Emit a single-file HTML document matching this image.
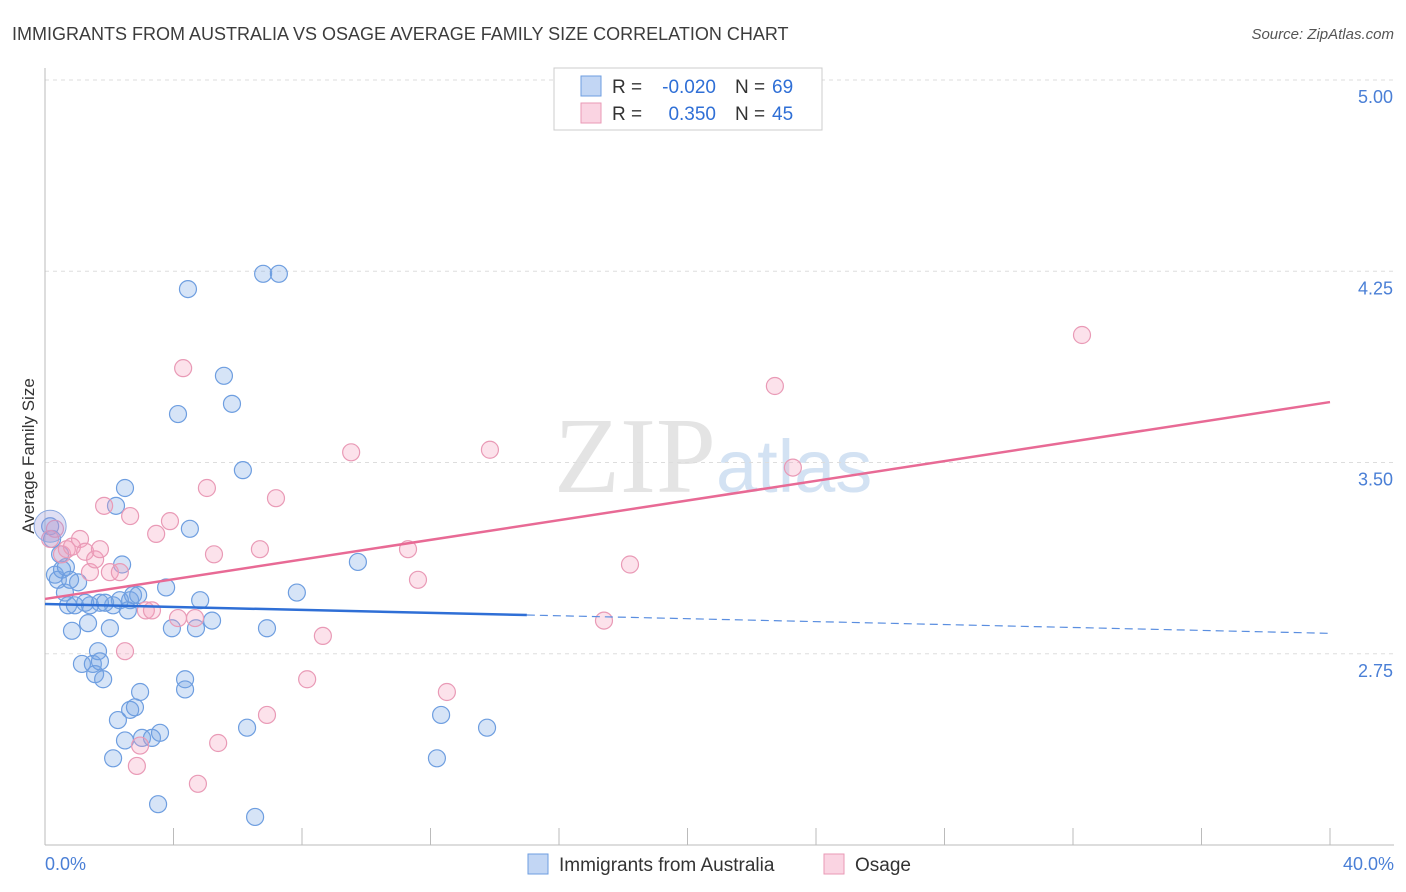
<!DOCTYPE html>
<html><head><meta charset="utf-8"><style>
body{margin:0;background:#fff;font-family:"Liberation Sans",sans-serif;}
svg{display:block}
</style></head><body>
<svg id="c" width="1406" height="892"></svg>
<script>
const blueX=[0.16,0.22,0.31,0.40,0.53,0.65,0.47,0.62,0.72,0.84,0.93,1.03,1.15,1.34,1.40,1.49,1.56,1.65,1.71,1.81,2.02,2.12,2.21,2.27,2.40,2.49,2.49,2.58,2.65,2.74,2.90,2.96,2.65,2.80,3.02,3.33,3.58,3.52,3.77,3.95,4.14,4.36,4.36,4.45,4.51,4.70,4.83,5.20,5.57,5.82,6.16,6.29,6.54,6.79,6.91,7.28,7.84,9.74,12.20,12.33,13.76,2.12,0.78,1.25,1.71,2.33,1.87];
const blueY=[3.25,3.20,3.06,3.04,3.08,3.09,3.14,2.99,2.94,2.84,2.94,3.03,2.71,2.87,2.94,2.71,2.67,2.76,2.72,2.65,2.85,2.94,3.33,2.49,3.10,3.40,2.41,2.92,2.96,2.98,2.98,2.60,2.53,2.54,2.42,2.42,2.44,2.16,3.01,2.85,3.69,2.65,2.61,4.18,3.24,2.85,2.96,2.88,3.84,3.73,3.47,2.46,2.11,4.24,2.85,4.24,2.99,3.11,2.34,2.51,2.46,2.34,3.04,2.95,2.95,2.96,2.95];
const pinkX=[0.16,0.31,0.53,0.68,0.84,1.09,1.25,1.40,1.56,1.71,1.84,2.02,2.33,2.49,2.65,2.86,2.96,3.14,3.33,3.46,3.89,4.14,4.30,4.67,4.76,5.04,5.26,5.39,6.69,6.91,7.19,8.16,8.65,9.53,11.30,11.61,12.51,13.85,17.40,18.21,22.72,23.28,32.28];
const pinkY=[3.20,3.24,3.14,3.16,3.17,3.20,3.15,3.07,3.12,3.16,3.33,3.07,3.07,2.76,3.29,2.31,2.39,2.92,2.92,3.22,3.27,2.89,3.87,2.89,2.24,3.40,3.14,2.40,3.16,2.51,3.36,2.65,2.82,3.54,3.16,3.04,2.60,3.55,2.88,3.10,3.80,3.48,4.00];
const yTicks=[5.00,4.25,3.50,2.75];
const blueTrend=[2.945,2.83];
const pinkTrend=[2.965,3.737];
const NS="http://www.w3.org/2000/svg";
const svg=document.getElementById('c');
const xs=v=>45+v/40*1285;
const ys=v=>80+(5-v)*255;
function el(t,a,txt){const e=document.createElementNS(NS,t);for(const k in a)e.setAttribute(k,a[k]);if(txt!==undefined)e.textContent=txt;svg.appendChild(e);return e;}
let e;
e=el('text',{x:12,y:40,'font-size':18,fill:'#3c3c3c'},'IMMIGRANTS FROM AUSTRALIA VS OSAGE AVERAGE FAMILY SIZE CORRELATION CHART');

e=el('text',{x:1394,y:39,'font-size':15,fill:'#555','font-style':'italic','text-anchor':'end'},'Source: ZipAtlas.com');

e=el('text',{x:716,y:492,'font-size':108,fill:'#e4e4e4','text-anchor':'end','font-family':'Liberation Serif,serif'},'ZIP');

e=el('text',{x:716,y:492,'font-size':74,fill:'#d3e2f3'},'atlas');

for(const t of yTicks){
 e=el('line',{x1:45,x2:1394,y1:ys(t),y2:ys(t),stroke:'#ddd','stroke-dasharray':'4,4'});
 
 e=el('text',{x:1393,y:ys(t)+23,'font-size':18,fill:'#4a7fd6','text-anchor':'end'},t.toFixed(2));
 
}
e=el('line',{x1:45,x2:45,y1:68,y2:845,stroke:'#bbb'});
e=el('line',{x1:45,x2:1394,y1:845,y2:845,stroke:'#bbb'});
for(let i=0;i<=10;i++){e=el('line',{x1:xs(i*4),x2:xs(i*4),y1:828,y2:845,stroke:'#bbb'});}
e=el('text',{x:45,y:870,'font-size':18,fill:'#4a7fd6'},'0.0%');
e=el('text',{x:1394,y:870,'font-size':18,fill:'#4a7fd6','text-anchor':'end'},'40.0%');
e=el('text',{x:34,y:456,'font-size':17,fill:'#333','text-anchor':'middle',transform:'rotate(-90 34 456)'},'Average Family Size');

function pts(X,Y,fill,stroke,name){for(let i=0;i<X.length;i++){e=el('circle',{cx:xs(X[i]),cy:ys(Y[i]),r:8.5,fill:fill,stroke:stroke,'stroke-width':1.2});}}
pts(blueX,blueY,'rgba(120,165,230,0.3)','#6e9ee0','blue-point');
pts(pinkX,pinkY,'rgba(245,160,190,0.3)','#e99ab6','pink-point');
e=el('circle',{cx:xs(0.16),cy:ys(3.25),r:16,fill:'rgba(150,150,220,0.3)',stroke:'#8aa8e0'});
const bAt=x=>blueTrend[0]+(blueTrend[1]-blueTrend[0])*x/40;
e=el('line',{x1:xs(0),y1:ys(bAt(0)),x2:xs(15),y2:ys(bAt(15)),stroke:'#2f6fd6','stroke-width':2.5});
e=el('line',{x1:xs(15),y1:ys(bAt(15)),x2:xs(40),y2:ys(bAt(40)),stroke:'#5a8ee0','stroke-width':1.2,'stroke-dasharray':'8,5'});
e=el('line',{x1:xs(0),y1:ys(pinkTrend[0]),x2:xs(40),y2:ys(pinkTrend[1]),stroke:'#e86a95','stroke-width':2.5});
e=el('rect',{x:554,y:68,width:268,height:62,fill:'#fff',stroke:'#ccc'});
const rows=[['-0.020','69','rgba(120,165,230,0.45)','#6e9ee0'],['0.350','45','rgba(245,160,190,0.45)','#e99ab6']];
rows.forEach((r,i)=>{const y=86+i*27;
 e=el('rect',{x:581,y:y-10,width:20,height:20,fill:r[2],stroke:r[3]});
 e=el('text',{x:612,y:y+7,'font-size':19,fill:'#333'},'R =');
 e=el('text',{x:716,y:y+7,'font-size':19,fill:'#2f6fd6','text-anchor':'end'},r[0]);
 e=el('text',{x:735,y:y+7,'font-size':19,fill:'#333'},'N =');
 e=el('text',{x:772,y:y+7,'font-size':19,fill:'#2f6fd6'},r[1]);
});
e=el('rect',{x:528,y:854,width:20,height:20,fill:'rgba(120,165,230,0.45)',stroke:'#6e9ee0'});
e=el('text',{x:559,y:871,'font-size':19,fill:'#333'},'Immigrants from Australia');
e=el('rect',{x:824,y:854,width:20,height:20,fill:'rgba(245,160,190,0.45)',stroke:'#e99ab6'});
e=el('text',{x:855,y:871,'font-size':19,fill:'#333'},'Osage');
</script>
</body></html>
